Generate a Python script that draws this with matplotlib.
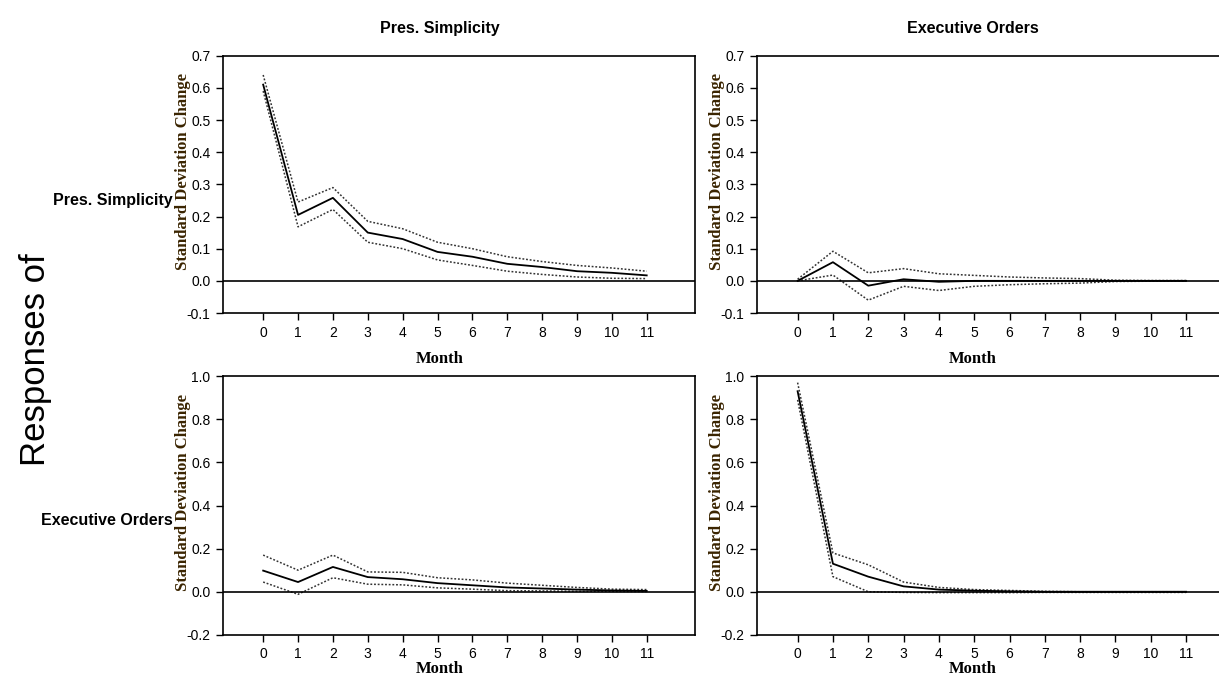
import numpy as np
import matplotlib
matplotlib.use("Agg")
import matplotlib.pyplot as plt

months = list(range(12))
shock_names = ["Pres. Simplicity", "Executive Orders"]
response_names = ["Pres. Simplicity", "Executive Orders"]

# response of Pres. Simplicity to Pres. Simplicity
ps_ps = [0.61, 0.205, 0.258, 0.15, 0.13, 0.09, 0.075, 0.053, 0.043, 0.03, 0.025, 0.017]
ps_ps_hi = [0.64, 0.245, 0.29, 0.185, 0.162, 0.12, 0.10, 0.075, 0.06, 0.048, 0.04, 0.03]
ps_ps_lo = [0.59, 0.168, 0.222, 0.12, 0.10, 0.065, 0.048, 0.03, 0.02, 0.012, 0.008, 0.007]

# response of Pres. Simplicity to Executive Orders
ps_eo = [0.0, 0.058, -0.015, 0.005, -0.003, 0.0, 0.0, 0.0, 0.0, 0.0, 0.0, 0.0]
ps_eo_hi = [0.005, 0.092, 0.025, 0.038, 0.022, 0.017, 0.012, 0.009, 0.007, 0.002, 0.001, 0.001]
ps_eo_lo = [0.0, 0.018, -0.06, -0.017, -0.03, -0.017, -0.012, -0.009, -0.007, -0.002, -0.001, -0.001]

# response of Executive Orders to Pres. Simplicity
eo_ps = [0.098, 0.045, 0.115, 0.068, 0.058, 0.04, 0.03, 0.02, 0.015, 0.01, 0.006, 0.004]
eo_ps_hi = [0.17, 0.10, 0.17, 0.092, 0.09, 0.065, 0.055, 0.04, 0.03, 0.02, 0.012, 0.01]
eo_ps_lo = [0.045, -0.012, 0.065, 0.035, 0.032, 0.018, 0.012, 0.005, 0.004, 0.002, 0.002, 0.001]

# response of Executive Orders to Executive Orders
eo_eo = [0.93, 0.13, 0.07, 0.025, 0.01, 0.005, 0.002, 0.0, 0.0, 0.0, 0.0, 0.0]
eo_eo_hi = [0.97, 0.18, 0.125, 0.045, 0.02, 0.01, 0.006, 0.002, 0.0, 0.0, 0.0, 0.0]
eo_eo_lo = [0.89, 0.07, 0.0, -0.003, -0.004, -0.004, -0.004, -0.003, -0.003, -0.003, -0.003, -0.003]

top_ticks = [-0.1, 0.0, 0.1, 0.2, 0.3, 0.4, 0.5, 0.6, 0.7]
bottom_ticks = [-0.2, 0.0, 0.2, 0.4, 0.6, 0.8, 1.0]

sans = ["Liberation Sans", "DejaVu Sans"]
serif = ["Liberation Serif", "DejaVu Serif"]

fig = plt.figure(figsize=(12.19, 6.79), dpi=100)

# rect, mean, upper, lower, yticks, xlabel/title x (axes fraction), xlabel pad
panels = [
    ([0.183, 0.539, 0.387, 0.379], ps_ps, ps_ps_hi, ps_ps_lo, top_ticks, 0.46, 8),
    ([0.621, 0.539, 0.392, 0.379], ps_eo, ps_eo_hi, ps_eo_lo, top_ticks, 0.452, 8),
    ([0.183, 0.065, 0.387, 0.381], eo_ps, eo_ps_hi, eo_ps_lo, bottom_ticks, 0.46, 0),
    ([0.621, 0.065, 0.392, 0.381], eo_eo, eo_eo_hi, eo_eo_lo, bottom_ticks, 0.452, 0),
]

axes = []
for rect, mean, hi, lo, yt, xc, lp in panels:
    ax = fig.add_axes(rect)
    ax.plot(months, hi, color="#333333", linestyle=(0, (1.2, 1.2)), linewidth=1.1)
    ax.plot(months, lo, color="#333333", linestyle=(0, (1.2, 1.2)), linewidth=1.1)
    ax.plot(months, mean, color="black", linewidth=1.3)
    ax.axhline(0, color="black", linewidth=1.2)
    ax.set_xlim(-1.15, 12.38)
    ax.set_ylim(yt[0], yt[-1])
    ax.set_yticks(yt)
    ax.set_yticklabels([f"{v:.1f}" for v in yt], family=sans, fontsize=10)
    ax.set_xticks(months)
    ax.set_xticklabels([str(m) for m in months], family=sans, fontsize=10)
    ax.tick_params(direction="out", length=5, width=1, pad=4)
    for s in ax.spines.values():
        s.set_linewidth(1.2)
    ax.set_xlabel("Month", family=serif, fontweight="bold", fontsize=12, labelpad=lp)
    ax.xaxis.label.set_x(xc)
    ax.set_ylabel("Standard Deviation Change", family=serif, fontweight="bold",
                  fontsize=12, color="#3a2400", labelpad=-3)
    ax.yaxis.label.set_y(0.55)
    axes.append(ax)

for ax, name, xc in zip(axes[:2], shock_names, [0.46, 0.452]):
    ax.set_title(name, family=sans, fontweight="bold", fontsize=11.5, pad=16, x=xc)

fig.text(0.142, 0.705, response_names[0], family=sans, fontweight="bold",
         fontsize=11.5, ha="right", va="center")
fig.text(0.142, 0.234, response_names[1], family=sans, fontweight="bold",
         fontsize=11.5, ha="right", va="center")
fig.text(0.029, 0.47, "Responses of", family=sans,
         fontsize=25, rotation=90, ha="center", va="center")

fig.savefig("out.png", dpi=100)
